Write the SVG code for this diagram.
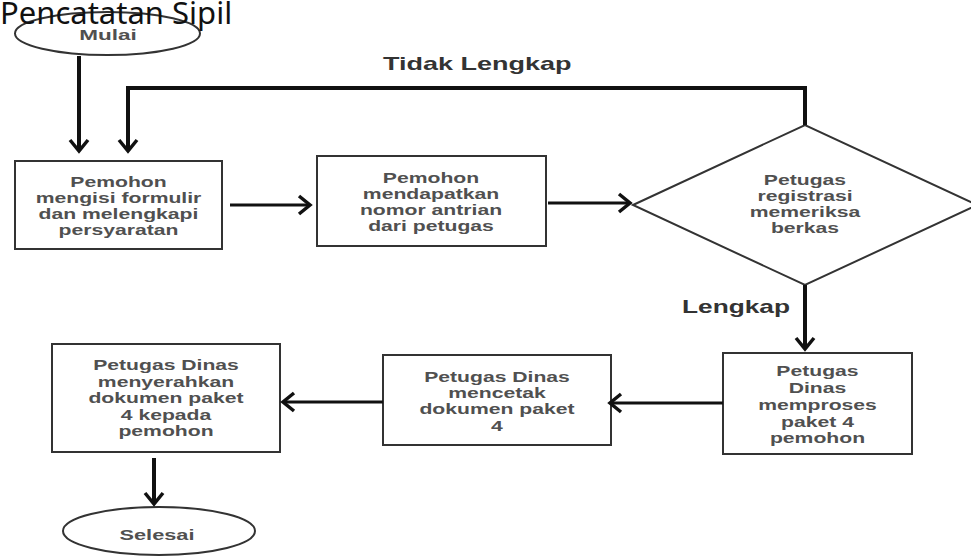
<svg xmlns="http://www.w3.org/2000/svg" width="971" height="556" viewBox="0 0 971 556">
<style>
.box{fill:#fff;stroke:#333;stroke-width:2}
.term{fill:#fff;stroke:#333;stroke-width:2}
.t{font-family:"Liberation Sans",Arial,sans-serif;font-weight:bold;font-size:15px;fill:#505050;text-anchor:middle}
.lbl{font-family:"Liberation Sans",Arial,sans-serif;font-weight:bold;font-size:18px;fill:#333}
.title{font-family:"Noto Sans","Open Sans",sans-serif;font-size:31px;fill:#111}
.c{fill:none;stroke:#111;stroke-linejoin:miter}
.thick{stroke-width:4}
.mid{stroke-width:3}
</style>
<defs>
<marker id="ah" markerUnits="userSpaceOnUse" viewBox="-15 -15 30 30" markerWidth="30" markerHeight="30" refX="0" refY="0" orient="auto" overflow="visible">
<path d="M-11,-9 L0,0 L-11,9" fill="none" stroke="#111" stroke-width="3.5"/>
</marker>
</defs>
<rect width="971" height="556" fill="#fff"/>

<g id="mulai">
<ellipse class="term" cx="107.5" cy="33.5" rx="92.5" ry="21.5"/>
<g transform="translate(108 0) scale(1.5 1)"><text class="t" x="0" y="40" font-size="16">Mulai</text></g>
</g>

<g id="box1">
<rect class="box" x="15" y="161" width="207" height="88"/>
<g transform="translate(118.5 0) scale(1.41 1)">
<text class="t" x="0" y="187">Pemohon</text>
<text class="t" x="0" y="203">mengisi formulir</text>
<text class="t" x="0" y="219">dan melengkapi</text>
<text class="t" x="0" y="235">persyaratan</text>
</g>
</g>

<g id="box2">
<rect class="box" x="317" y="156" width="229" height="90"/>
<g transform="translate(431 0) scale(1.41 1)">
<text class="t" x="0" y="183">Pemohon</text>
<text class="t" x="0" y="199">mendapatkan</text>
<text class="t" x="0" y="215">nomor antrian</text>
<text class="t" x="0" y="231">dari petugas</text>
</g>
</g>

<g id="diamond">
<polygon class="box" points="633,205 805,125 977,205 805,285"/>
<g transform="translate(805 0) scale(1.41 1)">
<text class="t" x="0" y="185">Petugas</text>
<text class="t" x="0" y="201">registrasi</text>
<text class="t" x="0" y="217">memeriksa</text>
<text class="t" x="0" y="233">berkas</text>
</g>
</g>

<g id="box3">
<rect class="box" x="723" y="353" width="189" height="101"/>
<g transform="translate(817.5 0) scale(1.41 1)">
<text class="t" x="0" y="376">Petugas</text>
<text class="t" x="0" y="393">Dinas</text>
<text class="t" x="0" y="410">memproses</text>
<text class="t" x="0" y="427">paket 4</text>
<text class="t" x="0" y="443">pemohon</text>
</g>
</g>

<g id="box4">
<rect class="box" x="383" y="355" width="228" height="90"/>
<g transform="translate(497 0) scale(1.41 1)">
<text class="t" x="0" y="382">Petugas Dinas</text>
<text class="t" x="0" y="398">mencetak</text>
<text class="t" x="0" y="414">dokumen paket</text>
<text class="t" x="0" y="431">4</text>
</g>
</g>

<g id="box5">
<rect class="box" x="52" y="344" width="228" height="108"/>
<g transform="translate(166 0) scale(1.41 1)">
<text class="t" x="0" y="370">Petugas Dinas</text>
<text class="t" x="0" y="387">menyerahkan</text>
<text class="t" x="0" y="403">dokumen paket</text>
<text class="t" x="0" y="420">4 kepada</text>
<text class="t" x="0" y="436">pemohon</text>
</g>
</g>

<g id="selesai">
<ellipse class="term" cx="159" cy="531" rx="96" ry="24"/>
<g transform="translate(157 0) scale(1.45 1)"><text class="t" x="0" y="540">Selesai</text></g>
</g>

<g id="connectors">
<line class="c thick" x1="79" y1="56" x2="79" y2="151" marker-end="url(#ah)"/>
<polyline class="c thick" points="805,125 805,88 128,88 128,151" marker-end="url(#ah)"/>
<line class="c mid" x1="230" y1="205" x2="310" y2="205" marker-end="url(#ah)"/>
<line class="c mid" x1="548" y1="203" x2="630" y2="203" marker-end="url(#ah)"/>
<line class="c thick" x1="805" y1="285" x2="805" y2="349" marker-end="url(#ah)"/>
<line class="c mid" x1="723" y1="403" x2="610" y2="403" marker-end="url(#ah)"/>
<line class="c mid" x1="383" y1="402" x2="283" y2="402" marker-end="url(#ah)"/>
<line class="c thick" x1="154" y1="458" x2="154" y2="504" marker-end="url(#ah)"/>
<g transform="translate(383 70) scale(1.5 1)"><text class="lbl" x="0" y="0">Tidak Lengkap</text></g>
<g transform="translate(682 313) scale(1.46 1)"><text class="lbl" x="0" y="0">Lengkap</text></g>
</g>

<text class="title" x="0" y="24">Pencatatan Sipil</text>
</svg>
